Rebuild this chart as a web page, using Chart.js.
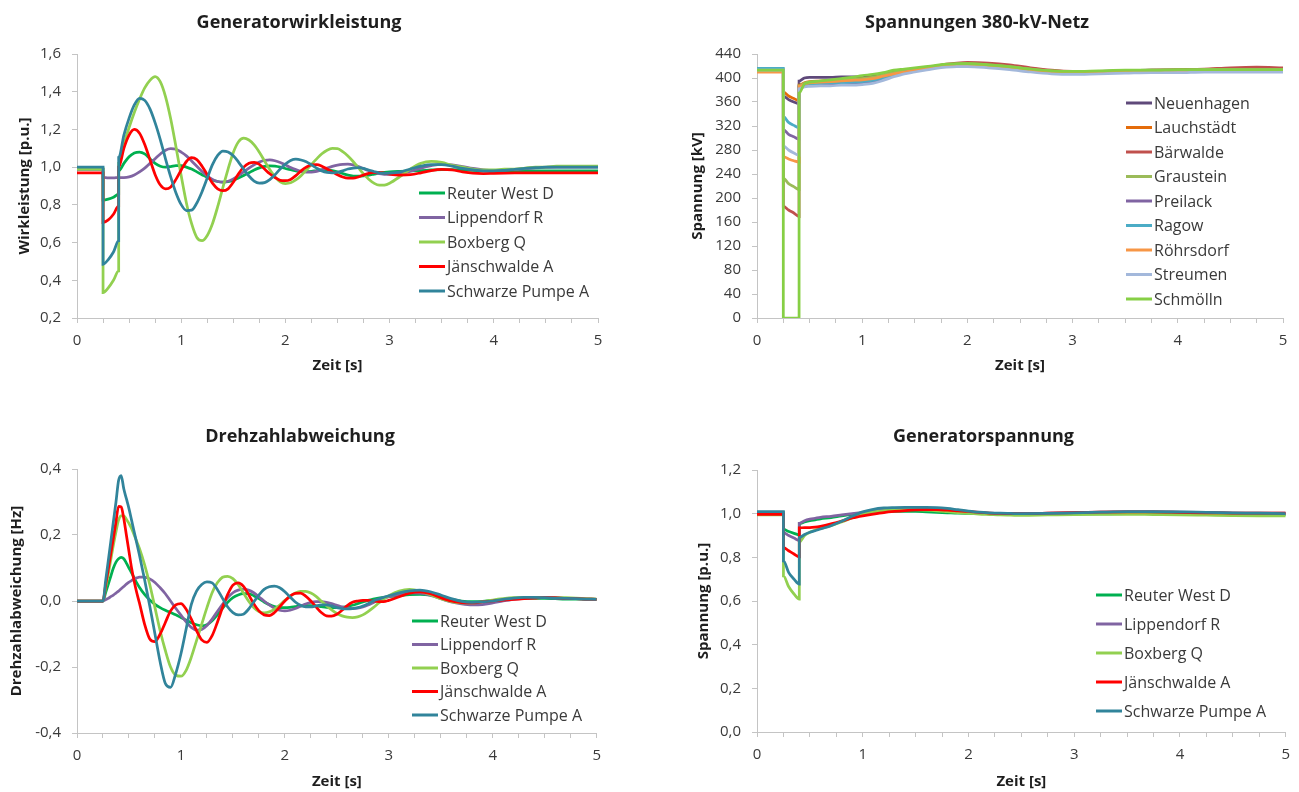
<!DOCTYPE html>
<html lang="de">
<head>
<meta charset="utf-8">
<title>Generator- und Netzgrößen nach Kurzschluss</title>
<script src="https://cdn.jsdelivr.net/npm/chart.js@4.4.1/dist/chart.umd.min.js"></script>
<style>
    html, body { margin: 0; padding: 0; background: #fff; }
    #sheet { position: relative; width: 1299px; height: 792px; overflow: hidden; }
    #sheet canvas { position: absolute; }
</style>
</head>
<body>
<div id="sheet">
    <canvas id="cWirk" width="622" height="395" style="left:0px;top:0px"></canvas>
    <canvas id="cNetz" width="628" height="395" style="left:671px;top:0px"></canvas>
    <canvas id="cDreh" width="610" height="397" style="left:0px;top:395px"></canvas>
    <canvas id="cGen" width="619" height="397" style="left:680px;top:395px"></canvas>
</div>
<script>
// --- Daten -------------------------------------------------------------
const genNames = ['Reuter West D', 'Lippendorf R', 'Boxberg Q', 'Jänschwalde A', 'Schwarze Pumpe A'];
const genColors = ['#00B050', '#8064A2', '#92D050', '#FF0000', '#31849B'];

const nodeNames = ['Neuenhagen', 'Lauchstädt', 'Bärwalde', 'Graustein', 'Preilack', 'Ragow', 'Röhrsdorf', 'Streumen', 'Schmölln'];
const nodeColors = ['#5F497A', '#E46C0A', '#C0504D', '#9BBB59', '#8064A2', '#4BACC6', '#F79646', '#A3B8DB', '#86CF45'];

// Generatorwirkleistung [p.u.]
const tWirk = [0, 0.25, 0.25, 0.3, 0.35, 0.4, 0.4,
    0.45, 0.5, 0.55, 0.6, 0.65, 0.7, 0.75, 0.8, 0.85, 0.9, 0.95, 1.0,
    1.05, 1.1, 1.15, 1.2, 1.25, 1.3, 1.35, 1.4, 1.45, 1.5, 1.55, 1.6, 1.65, 1.7, 1.75, 1.8, 1.85, 1.9, 1.95, 2.0,
    2.05, 2.1, 2.15, 2.2, 2.25, 2.3, 2.35, 2.4, 2.45, 2.5, 2.55, 2.6, 2.65, 2.7, 2.75, 2.8, 2.85, 2.9, 2.95, 3.0,
    3.1, 3.2, 3.3, 3.4, 3.5, 3.6, 3.7, 3.8, 3.9, 4.0, 4.1, 4.2, 4.3, 4.4, 4.5, 4.6, 4.7, 4.8, 4.9, 5.0];
const pReuter = [0.99, 0.99, 0.825, 0.83, 0.84, 0.857, 0.98,
    1.02, 1.055, 1.075, 1.08, 1.07, 1.045, 1.02, 1.005, 1.0, 1.003, 1.008, 1.008,
    1.0, 0.99, 0.975, 0.96, 0.945, 0.932, 0.924, 0.921, 0.923, 0.93, 0.942, 0.956, 0.97, 0.985, 0.996, 1.004, 1.007, 1.005, 1.0, 0.993,
    0.986, 0.98, 0.976, 0.976, 0.978, 0.982, 0.985, 0.985, 0.982, 0.975, 0.966, 0.958, 0.953, 0.952, 0.954, 0.958, 0.963, 0.968, 0.972, 0.975,
    0.978, 0.98, 0.982, 0.985, 0.987, 0.987, 0.985, 0.983, 0.98, 0.98, 0.98, 0.98, 0.98, 0.98, 0.98, 0.98, 0.98, 0.98, 0.98, 0.98];
const pLippendorf = [0.99, 0.99, 0.945, 0.943, 0.943, 0.945, 0.945,
    0.945, 0.948, 0.958, 0.975, 0.995, 1.02, 1.045, 1.07, 1.09, 1.098, 1.095, 1.08,
    1.06, 1.033, 1.005, 0.977, 0.953, 0.935, 0.924, 0.92, 0.925, 0.938, 0.955, 0.975, 0.995, 1.013, 1.027, 1.036, 1.038, 1.034, 1.025, 1.012,
    0.998, 0.987, 0.978, 0.974, 0.974, 0.978, 0.986, 0.995, 1.004, 1.011, 1.015, 1.016, 1.012, 1.003, 0.992, 0.981, 0.972, 0.965, 0.962, 0.961,
    0.965, 0.978, 0.995, 1.008, 1.015, 1.012, 1.003, 0.993, 0.986, 0.983, 0.984, 0.988, 0.992, 0.996, 0.999, 1.0, 1.0, 1.0, 1.0, 1.0];
const pBoxberg = [0.99, 0.99, 0.335, 0.36, 0.40, 0.45, 1.02,
    1.12, 1.21, 1.29, 1.36, 1.42, 1.46, 1.48, 1.452, 1.373, 1.254, 1.107, 0.954,
    0.81, 0.70, 0.627, 0.61, 0.638, 0.70, 0.79, 0.892, 0.99, 1.078, 1.135, 1.154, 1.144, 1.118, 1.079, 1.033, 0.987, 0.948, 0.922, 0.913,
    0.917, 0.932, 0.955, 0.984, 1.015, 1.044, 1.071, 1.09, 1.099, 1.098, 1.082, 1.059, 1.03, 0.997, 0.964, 0.936, 0.915, 0.904, 0.905, 0.915,
    0.95, 0.99, 1.02, 1.03, 1.025, 1.01, 1.0, 0.99, 0.985, 0.985, 0.99, 0.99, 0.995, 1.0, 1.0, 1.005, 1.005, 1.005, 1.005, 1.005];
const pJaenschwalde = [0.97, 0.97, 0.706, 0.72, 0.75, 0.795, 1.0,
    1.1, 1.17, 1.2, 1.18, 1.12, 1.04, 0.96, 0.905, 0.885, 0.895, 0.935, 0.985,
    1.03, 1.05, 1.04, 1.005, 0.96, 0.915, 0.885, 0.875, 0.885, 0.92, 0.965, 1.0, 1.02, 1.025, 1.015, 0.99, 0.965, 0.945, 0.93, 0.928,
    0.935, 0.955, 0.98, 1.0, 1.012, 1.013, 1.005, 0.99, 0.975, 0.96, 0.948, 0.942, 0.942, 0.948, 0.958, 0.967, 0.972, 0.972, 0.968, 0.963,
    0.958, 0.96, 0.97, 0.982, 0.988, 0.985, 0.975, 0.968, 0.966, 0.967, 0.968, 0.969, 0.97, 0.97, 0.97, 0.97, 0.97, 0.97, 0.97, 0.97];
const pSchwarzePumpe = [1.0, 1.0, 0.485, 0.51, 0.55, 0.61, 1.05,
    1.17, 1.26, 1.33, 1.365, 1.354, 1.309, 1.235, 1.145, 1.043, 0.947, 0.863, 0.801,
    0.77, 0.772, 0.81, 0.87, 0.942, 1.013, 1.062, 1.085, 1.08, 1.06, 1.027, 0.989, 0.953, 0.926, 0.915, 0.918, 0.934, 0.96, 0.99, 1.016,
    1.035, 1.042, 1.038, 1.028, 1.012, 0.995, 0.98, 0.972, 0.97, 0.973, 0.98, 0.99, 0.995, 0.997, 0.993, 0.985, 0.977, 0.97, 0.967, 0.968,
    0.975, 0.99, 1.005, 1.013, 1.013, 1.005, 0.993, 0.985, 0.98, 0.98, 0.983, 0.988, 0.993, 0.997, 1.0, 1.0, 1.0, 1.0, 1.0, 1.0];

// Spannungen 380-kV-Netz [kV]
const tNetz = [0, 0.25, 0.25, 0.3, 0.35, 0.4, 0.4, 0.45, 0.5, 0.6, 0.7, 0.8, 0.9, 1.0, 1.1, 1.2, 1.3, 1.4, 1.5,
    1.6, 1.7, 1.8, 1.9, 2.0, 2.2, 2.4, 2.6, 2.8, 3.0, 3.25, 3.5, 3.75, 4.0, 4.25, 4.5, 4.75, 5.0];
const uNeuenhagen = [413, 413, 370, 364, 360, 357, 395, 400, 401, 401, 401, 402, 402, 402, 403, 406, 410, 413, 415,
    417, 420, 422, 423, 423, 421, 418, 414, 411, 410, 411, 412, 413, 413, 414, 414, 414, 414];
const uLauchstaedt = [411, 411, 377, 370, 366, 362, 388, 392, 394, 395, 396, 397, 398, 399, 401, 405, 409, 412, 414,
    416, 419, 421, 423, 424, 423, 420, 416, 412, 410, 410, 411, 412, 413, 414, 416, 416, 416];
const uBaerwalde = [412, 412, 186, 180, 175, 169, 385, 390, 392, 394, 395, 396, 397, 398, 400, 404, 409, 412, 414,
    417, 420, 423, 425, 426, 425, 422, 417, 413, 411, 411, 412, 413, 414, 415, 417, 418, 417];
const uGraustein = [413, 413, 233, 224, 219, 214, 387, 391, 393, 395, 396, 397, 398, 399, 401, 405, 409, 412, 414,
    417, 420, 422, 423, 424, 422, 419, 415, 412, 410, 411, 412, 413, 413, 414, 414, 414, 414];
const uPreilack = [413, 413, 314, 306, 302, 298, 384, 387, 388, 389, 389, 390, 390, 391, 393, 398, 404, 409, 412,
    415, 418, 420, 421, 421, 419, 416, 412, 409, 408, 409, 410, 411, 411, 412, 412, 412, 412];
const uRagow = [416, 416, 336, 326, 321, 317, 386, 389, 390, 391, 392, 392, 393, 394, 396, 400, 405, 410, 413,
    416, 419, 421, 422, 422, 420, 417, 413, 410, 409, 410, 411, 412, 412, 413, 413, 413, 413];
const uRoehrsdorf = [410, 410, 269, 265, 262, 260, 386, 390, 392, 393, 394, 395, 396, 397, 399, 403, 407, 410, 413,
    416, 419, 421, 422, 422, 420, 417, 413, 410, 409, 410, 411, 412, 412, 413, 413, 413, 413];
const uStreumen = [413, 413, 287, 280, 275, 271, 382, 385, 386, 387, 387, 388, 388, 389, 391, 396, 402, 407, 410,
    413, 416, 418, 419, 419, 417, 414, 410, 407, 406, 407, 408, 409, 409, 410, 410, 410, 410];
const uSchmoelln = [413, 413, 0, 0, 0, 0, 375, 390, 393, 395, 397, 399, 401, 404, 406, 409, 413, 415, 417,
    419, 421, 423, 424, 424, 422, 419, 415, 412, 411, 412, 413, 413, 414, 414, 414, 414, 414];

// Drehzahlabweichung [Hz]
const tDreh = [0, 0.25, 0.275, 0.3, 0.325, 0.35, 0.375, 0.4, 0.425, 0.45, 0.475, 0.5, 0.525, 0.55, 0.575, 0.6,
    0.65, 0.7, 0.75, 0.8, 0.85, 0.9, 0.95, 1.0,
    1.05, 1.1, 1.15, 1.2, 1.25, 1.3, 1.35, 1.4, 1.45, 1.5, 1.55, 1.6, 1.65, 1.7, 1.75, 1.8, 1.85, 1.9, 1.95, 2.0,
    2.05, 2.1, 2.15, 2.2, 2.25, 2.3, 2.35, 2.4, 2.45, 2.5, 2.55, 2.6, 2.65, 2.7, 2.75, 2.8, 2.85, 2.9, 2.95, 3.0,
    3.1, 3.2, 3.3, 3.4, 3.5, 3.6, 3.7, 3.8, 3.9, 4.0, 4.1, 4.2, 4.3, 4.4, 4.5, 4.6, 4.7, 4.8, 4.9, 5.0];
const fReuter = [0, 0, 0.025, 0.05, 0.075, 0.1, 0.118, 0.128, 0.132, 0.128, 0.115, 0.1, 0.085, 0.07, 0.055, 0.042,
    0.02, 0.003, -0.01, -0.02, -0.028, -0.035, -0.042, -0.05,
    -0.058, -0.066, -0.072, -0.075, -0.072, -0.06, -0.042, -0.022, -0.004, 0.01, 0.018, 0.022, 0.022, 0.016, 0.007, -0.003, -0.011, -0.017, -0.02, -0.02,
    -0.019, -0.017, -0.015, -0.014, -0.014, -0.015, -0.017, -0.019, -0.02, -0.02, -0.019, -0.017, -0.013, -0.008, -0.003, 0.002, 0.006, 0.009, 0.011, 0.013,
    0.016, 0.019, 0.02, 0.018, 0.012, 0.005, 0.0, -0.002, -0.001, 0.002, 0.005, 0.007, 0.008, 0.008, 0.008, 0.007, 0.006, 0.006, 0.005, 0.005];
const fLippendorf = [0, 0, 0.004, 0.008, 0.013, 0.018, 0.024, 0.03, 0.037, 0.044, 0.051, 0.057, 0.062, 0.067, 0.07, 0.072,
    0.072, 0.067, 0.056, 0.04, 0.022, 0.0, -0.022, -0.043,
    -0.063, -0.08, -0.088, -0.086, -0.074, -0.055, -0.032, -0.01, 0.01, 0.025, 0.033, 0.036, 0.033, 0.025, 0.013, 0.0, -0.012, -0.022, -0.028, -0.03,
    -0.028, -0.023, -0.016, -0.009, -0.004, -0.002, -0.002, -0.004, -0.008, -0.013, -0.018, -0.021, -0.023, -0.022, -0.018, -0.012, -0.005, 0.002, 0.008, 0.013,
    0.021, 0.025, 0.024, 0.017, 0.007, -0.003, -0.009, -0.012, -0.011, -0.006, 0.0, 0.005, 0.008, 0.01, 0.01, 0.009, 0.008, 0.007, 0.006, 0.005];
const fBoxberg = [0, 0, 0.04, 0.08, 0.125, 0.17, 0.21, 0.245, 0.258, 0.258, 0.248, 0.235, 0.22, 0.2, 0.18, 0.16,
    0.11, 0.05, -0.02, -0.09, -0.15, -0.2, -0.225, -0.228,
    -0.21, -0.17, -0.12, -0.07, -0.02, 0.025, 0.055, 0.072, 0.075, 0.068, 0.05, 0.025, 0.0, -0.02, -0.032, -0.036, -0.033, -0.025, -0.012, 0.002,
    0.014, 0.024, 0.029, 0.029, 0.024, 0.014, 0.0, -0.014, -0.027, -0.038, -0.045, -0.049, -0.05, -0.048, -0.042, -0.032, -0.02, -0.007, 0.006, 0.016,
    0.03, 0.035, 0.03, 0.019, 0.007, -0.002, -0.006, -0.006, -0.002, 0.003, 0.007, 0.01, 0.011, 0.011, 0.011, 0.01, 0.01, 0.009, 0.007, 0.006];
const fJaenschwalde = [0, 0, 0.048, 0.095, 0.143, 0.19, 0.24, 0.287, 0.285, 0.25, 0.2, 0.15, 0.1, 0.06, 0.025, -0.005,
    -0.07, -0.115, -0.123, -0.1, -0.065, -0.03, -0.012, -0.008,
    -0.025, -0.055, -0.09, -0.118, -0.125, -0.105, -0.065, -0.02, 0.02, 0.048, 0.055, 0.045, 0.02, -0.008, -0.03, -0.042, -0.044, -0.035, -0.018, 0.0,
    0.015, 0.023, 0.024, 0.015, 0.0, -0.018, -0.035, -0.045, -0.046, -0.04, -0.028, -0.014, -0.004, 0.0, 0.002, 0.002, 0.0, -0.002, -0.002, 0.002,
    0.013, 0.024, 0.028, 0.022, 0.01, 0.0, -0.005, -0.006, -0.003, 0.0, 0.003, 0.005, 0.007, 0.009, 0.011, 0.01, 0.008, 0.007, 0.006, 0.005];
const fSchwarzePumpe = [0, 0, 0.06, 0.12, 0.18, 0.24, 0.30, 0.365, 0.38, 0.34, 0.31, 0.28, 0.245, 0.21, 0.175, 0.14,
    0.065, -0.015, -0.1, -0.185, -0.25, -0.262, -0.22, -0.16,
    -0.085, -0.01, 0.03, 0.05, 0.058, 0.055, 0.035, 0.008, -0.018, -0.035, -0.042, -0.04, -0.025, -0.003, 0.018, 0.035, 0.043, 0.045, 0.04, 0.028,
    0.012, -0.003, -0.013, -0.018, -0.018, -0.015, -0.012, -0.012, -0.015, -0.02, -0.023, -0.024, -0.023, -0.02, -0.015, -0.008, 0.0, 0.006, 0.011, 0.016,
    0.025, 0.031, 0.033, 0.028, 0.018, 0.007, -0.001, -0.004, -0.003, 0.0, 0.005, 0.009, 0.011, 0.011, 0.01, 0.009, 0.008, 0.007, 0.006, 0.005];

// Generatorspannung [p.u.]
const tGen = [0, 0.25, 0.25, 0.3, 0.35, 0.4, 0.4, 0.45, 0.5, 0.55, 0.6, 0.7, 0.8, 0.9, 1.0,
    1.1, 1.2, 1.3, 1.4, 1.5, 1.6, 1.7, 1.8, 1.9, 2.0, 2.1, 2.2, 2.3, 2.4, 2.5,
    2.75, 3.0, 3.25, 3.5, 3.75, 4.0, 4.25, 4.5, 4.75, 5.0];
const gReuter = [1.005, 1.005, 0.928, 0.918, 0.91, 0.903, 0.955, 0.962, 0.968, 0.972, 0.976, 0.982, 0.99, 0.997, 1.002,
    1.006, 1.009, 1.01, 1.01, 1.01, 1.008, 1.006, 1.004, 1.002, 1.001, 1.0, 1.0, 0.999, 0.998, 0.997,
    0.997, 0.998, 0.999, 1.0, 1.0, 0.999, 0.998, 0.997, 0.996, 0.996];
const gLippendorf = [1.003, 1.003, 0.913, 0.9, 0.888, 0.878, 0.955, 0.968, 0.975, 0.979, 0.983, 0.988, 0.994, 1.0, 1.006,
    1.012, 1.017, 1.02, 1.021, 1.021, 1.02, 1.018, 1.015, 1.01, 1.006, 1.003, 1.001, 1.0, 1.0, 1.0,
    1.002, 1.005, 1.007, 1.008, 1.008, 1.007, 1.005, 1.003, 1.002, 1.002];
const gBoxberg = [0.995, 0.995, 0.715, 0.665, 0.632, 0.609, 0.87, 0.9, 0.915, 0.925, 0.932, 0.945, 0.962, 0.98, 0.997,
    1.008, 1.014, 1.017, 1.018, 1.018, 1.016, 1.013, 1.009, 1.005, 1.001, 0.998, 0.996, 0.994, 0.993, 0.992,
    0.994, 0.996, 0.997, 0.997, 0.996, 0.995, 0.993, 0.991, 0.99, 0.99];
const gJaenschwalde = [0.997, 0.997, 0.845, 0.83, 0.815, 0.802, 0.935, 0.936, 0.936, 0.938, 0.942, 0.953, 0.966, 0.98, 0.99,
    0.998, 1.005, 1.01, 1.014, 1.017, 1.018, 1.018, 1.016, 1.013, 1.01, 1.006, 1.003, 1.001, 1.0, 1.0,
    1.002, 1.005, 1.007, 1.008, 1.008, 1.006, 1.004, 1.003, 1.002, 1.002];
const gSchwarzePumpe = [1.009, 1.009, 0.784, 0.73, 0.70, 0.677, 0.89, 0.905, 0.915, 0.922, 0.93, 0.945, 0.965, 0.988, 1.008,
    1.02, 1.026, 1.028, 1.029, 1.029, 1.029, 1.028, 1.024, 1.018, 1.012, 1.007, 1.004, 1.002, 1.001, 1.0,
    1.001, 1.004, 1.007, 1.009, 1.009, 1.008, 1.006, 1.004, 1.002, 1.0];

// --- Darstellung ---------------------------------------------------------
const FONT = '"Open Sans", "DejaVu Sans", sans-serif';
const AXIS_GRAY = '#C4C4C4';
const TEXT = '#3A3A3A';

Chart.defaults.font.family = FONT;
Chart.defaults.color = TEXT;

// Legend inside the plot area, like the Excel original
const insideLegend = {
    id: 'insideLegend',
    afterDatasetsDraw(chart, args, opts) {
        const { ctx, chartArea } = chart;
        ctx.save();
        ctx.font = '16px ' + FONT;
        ctx.textBaseline = 'middle';
        ctx.fillStyle = TEXT;
        chart.data.datasets.forEach((ds, i) => {
            const x = chartArea.left + opts.left;
            const y = chartArea.top + opts.top + i * opts.gap;
            ctx.strokeStyle = ds.borderColor;
            ctx.lineWidth = 3;
            ctx.beginPath();
            ctx.moveTo(x, y);
            ctx.lineTo(x + 26, y);
            ctx.stroke();
            ctx.fillText(ds.label, x + 28, y + 1);
        });
        ctx.restore();
    }
};

function toPoints(time, values) {
    return time.map((t, i) => ({ x: t, y: values[i] }));
}

function lineSets(time, names, colors, series) {
    const n = series.length;
    return series.map((vals, i) => ({
        label: names[i],
        data: toPoints(time, vals),
        borderColor: colors[i],
        backgroundColor: colors[i],
        borderWidth: 2.75,
        pointRadius: 0,
        cubicInterpolationMode: 'monotone',
        order: n - 1 - i
    }));
}

const commaOne = v => v.toFixed(1).replace('.', ',');

function makePanel(id, p) {
    const grid = { drawOnChartArea: false, drawTicks: true, tickLength: 5, color: AXIS_GRAY };
    const border = { display: true, color: AXIS_GRAY, width: 1 };
    return new Chart(document.getElementById(id), {
        type: 'line',
        data: { datasets: lineSets(p.time, p.names, p.colors, p.series) },
        options: {
            responsive: false,
            animation: false,
            events: [],
            layout: { padding: { left: 0, top: 0, right: p.padRight, bottom: 0 } },
            plugins: {
                legend: { display: false },
                tooltip: { enabled: false },
                title: {
                    display: true, text: p.title, color: '#1E1E1E',
                    font: { size: 18, weight: 'bold' }, padding: p.titlePad
                },
                insideLegend: p.legend
            },
            scales: {
                x: {
                    type: 'linear', min: 0, max: 5,
                    afterFit: s => { s.height = p.xHeight; },
                    grid: grid, border: border,
                    ticks: {
                        stepSize: 0.25, autoSkip: false, maxRotation: 0, padding: 9,
                        color: TEXT, font: { size: 15 },
                        callback: v => Math.abs(v - Math.round(v)) < 1e-6 ? String(Math.round(v)) : ''
                    },
                    title: {
                        display: true, text: 'Zeit [s]', color: '#1E1E1E',
                        font: { size: 15, weight: 'bold' },
                        padding: { top: 0, bottom: p.xTitlePad }
                    }
                },
                y: {
                    min: p.yMin, max: p.yMax,
                    afterFit: s => { s.width = p.yWidth; },
                    grid: grid, border: border,
                    ticks: { stepSize: p.yStep, padding: 11, color: TEXT, font: { size: 15 }, callback: p.yFmt },
                    title: {
                        display: true, text: p.yTitle, color: '#1E1E1E',
                        font: { size: 15, weight: 'bold' },
                        padding: { top: p.yTitlePad, bottom: 0 }
                    }
                }
            }
        },
        plugins: [insideLegend]
    });
}

makePanel('cWirk', {
    title: 'Generatorwirkleistung',
    time: tWirk, names: genNames, colors: genColors,
    series: [pReuter, pLippendorf, pBoxberg, pJaenschwalde, pSchwarzePumpe],
    yMin: 0.2, yMax: 1.6, yStep: 0.2, yFmt: commaOne, yTitle: 'Wirkleistung [p.u.]',
    yWidth: 77, yTitlePad: 16, padRight: 24,
    titlePad: { top: 12.2, bottom: 20.2 }, xHeight: 77, xTitlePad: 20,
    legend: { left: 342, top: 139, gap: 24.5 }
});

makePanel('cNetz', {
    title: 'Spannungen 380-kV-Netz',
    time: tNetz, names: nodeNames, colors: nodeColors,
    series: [uNeuenhagen, uLauchstaedt, uBaerwalde, uGraustein, uPreilack, uRagow, uRoehrsdorf, uStreumen, uSchmoelln],
    yMin: 0, yMax: 440, yStep: 40, yFmt: v => String(Math.round(v)), yTitle: 'Spannung [kV]',
    yWidth: 86, yTitlePad: 18, padRight: 16,
    titlePad: { top: 12.2, bottom: 20.2 }, xHeight: 77, xTitlePad: 20,
    legend: { left: 369, top: 49, gap: 24.5 }
});

makePanel('cDreh', {
    title: 'Drehzahlabweichung',
    time: tDreh, names: genNames, colors: genColors,
    series: [fReuter, fLippendorf, fBoxberg, fJaenschwalde, fSchwarzePumpe],
    yMin: -0.4, yMax: 0.4, yStep: 0.2, yFmt: commaOne, yTitle: 'Drehzahlabweichung [Hz]',
    yWidth: 77, yTitlePad: 8, padRight: 10,
    titlePad: { top: 31.2, bottom: 21.2 }, xHeight: 59, xTitlePad: 1,
    legend: { left: 335, top: 152, gap: 23.5 }
});

makePanel('cGen', {
    title: 'Generatorspannung',
    time: tGen, names: genNames, colors: genColors,
    series: [gReuter, gLippendorf, gBoxberg, gJaenschwalde, gSchwarzePumpe],
    yMin: 0, yMax: 1.2, yStep: 0.2, yFmt: commaOne, yTitle: 'Spannung [p.u.]',
    yWidth: 77, yTitlePad: 15, padRight: 12,
    titlePad: { top: 31.2, bottom: 22.2 }, xHeight: 60, xTitlePad: 1,
    legend: { left: 339, top: 125, gap: 29 }
});
</script>
</body>
</html>
